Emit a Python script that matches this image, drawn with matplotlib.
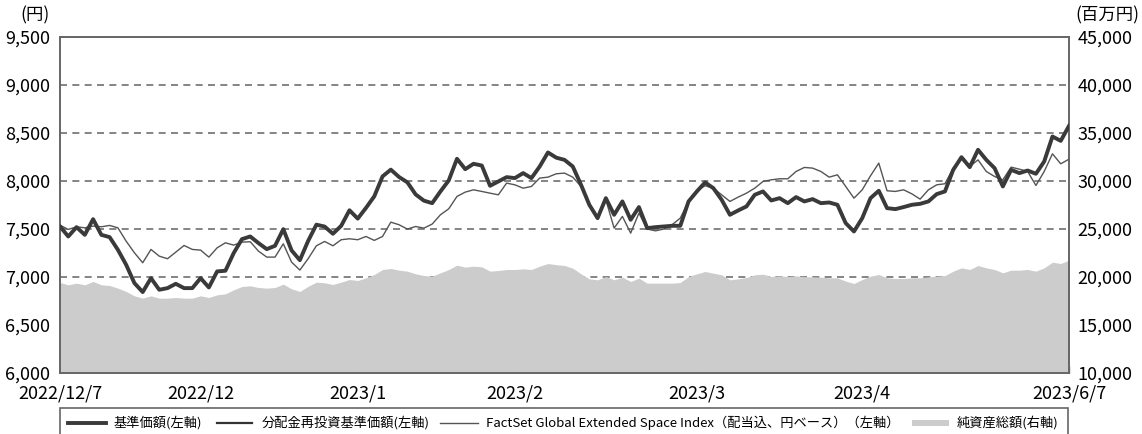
import numpy as np
import matplotlib
matplotlib.use("Agg")
import matplotlib.pyplot as plt
from matplotlib.patches import Rectangle
from matplotlib.lines import Line2D

plt.rcParams['font.family'] = ['Noto Sans CJK JP', 'DejaVu Sans']

# ---- data ----
nav = [7521, 7417, 7514, 7434, 7597, 7434, 7410, 7278, 7122, 6931,
       6838, 6983, 6862, 6879, 6924, 6879, 6879, 6983, 6886, 7053,
       7060, 7244, 7389, 7417, 7348, 7285, 7320, 7493, 7272, 7170,
       7370, 7540, 7520, 7445, 7528, 7690, 7603, 7715, 7835, 8043,
       8113, 8036, 7981, 7855, 7790, 7764, 7886, 8000, 8226, 8118,
       8174, 8156, 7945, 7990, 8035, 8025, 8077, 8025, 8146, 8292,
       8238, 8215, 8146, 7955, 7747, 7608, 7816, 7643, 7782, 7591,
       7723, 7504, 7514, 7521, 7528, 7528, 7782, 7886, 7980, 7920,
       7799, 7643, 7688, 7730, 7851, 7886, 7792, 7816, 7764, 7827,
       7782, 7806, 7764, 7771, 7747, 7556, 7469, 7608, 7816, 7893,
       7712, 7702, 7723, 7747, 7757, 7782, 7858, 7886, 8111, 8243,
       8139, 8320, 8215, 8129, 7938, 8111, 8077, 8104, 8070, 8198,
       8458, 8413, 8569]

nav_reinvested = list(nav)  # no distributions: identical to NAV

space_index = [7535, 7490, 7518, 7507, 7525, 7518, 7532, 7507, 7368, 7247,
               7143, 7282, 7212, 7185, 7254, 7323, 7282, 7275, 7202, 7299,
               7351, 7327, 7358, 7362, 7264, 7202, 7202, 7341, 7150, 7067,
               7185, 7320, 7365, 7320, 7383, 7393, 7383, 7417, 7376, 7417,
               7566, 7539, 7494, 7521, 7504, 7546, 7643, 7705, 7834, 7879,
               7903, 7886, 7868, 7851, 7973, 7955, 7920, 7938, 8025, 8035,
               8070, 8077, 8035, 7938, 7747, 7626, 7799, 7504, 7626, 7452,
               7660, 7494, 7476, 7494, 7539, 7608, 7782, 7896, 7945, 7920,
               7851, 7782, 7827, 7868, 7920, 7990, 8007, 8018, 8018, 8094,
               8136, 8129, 8094, 8035, 8059, 7938, 7816, 7903, 8049, 8181,
               7893, 7886, 7903, 7861, 7806, 7903, 7955, 7966, 8129, 8222,
               8146, 8215, 8094, 8042, 8007, 8139, 8118, 8094, 7948, 8094,
               8278, 8174, 8222]

net_assets = [19375, 19133, 19306, 19133, 19480, 19133, 19063, 18786, 18440, 17987,
              17745, 17987, 17745, 17745, 17814, 17745, 17745, 17987, 17814, 18092,
              18196, 18612, 18959, 19028, 18855, 18786, 18855, 19202, 18716, 18440,
              18975, 19410, 19341, 19167, 19410, 19688, 19584, 19861, 20208, 20729,
              20833, 20659, 20555, 20278, 20104, 20035, 20382, 20729, 21180, 20972,
              21076, 21006, 20555, 20625, 20729, 20729, 20798, 20729, 21076, 21353,
              21230, 21145, 20868, 20278, 19757, 19653, 20000, 19653, 19931, 19480,
              19827, 19306, 19306, 19306, 19306, 19375, 20000, 20278, 20521, 20347,
              20174, 19653, 19757, 19896, 20174, 20243, 20000, 20069, 20000, 20069,
              19983, 19965, 19931, 19861, 19861, 19514, 19271, 19688, 20035, 20208,
              19861, 19792, 19792, 19861, 19861, 19965, 20035, 20104, 20555, 20902,
              20729, 21145, 20902, 20729, 20382, 20659, 20659, 20729, 20555, 20902,
              21492, 21353, 21700]

tick_pos = [0, 17, 36, 55, 77, 97, 122]
tick_labels = ["2022/12/7", "2022/12", "2023/1", "2023/2", "2023/3", "2023/4", "2023/6/7"]
left_ticks = [6000, 6500, 7000, 7500, 8000, 8500, 9000, 9500]
right_ticks = [10000, 15000, 20000, 25000, 30000, 35000, 40000, 45000]

legend_labels = ["基準価額(左軸)", "分配金再投資基準価額(左軸)",
                 "FactSet Global Extended Space Index（配当込、円ベース）（左軸）",
                 "純資産総額(右軸)"]

# ---- figure ----
W, H = 1142, 434
fig = plt.figure(figsize=(W / 100, H / 100), dpi=100)
L, R, T, B = 60, 1069, 36.5, 372.5
ax2 = fig.add_axes([L / W, (H - B) / H, (R - L) / W, (B - T) / H])
ax = ax2.twinx()

x = np.arange(len(nav))
spine_c = "#666666"
area_c = "#cccccc"

# right axis: area + gridlines (below area)
ax2.fill_between(x, 10000, net_assets, color=area_c, linewidth=0, zorder=2)
ax2.set_ylim(10000, 45000)
ax2.set_yticks(right_ticks)
ax2.set_yticklabels([f"{v:,}" for v in right_ticks])
ax2.yaxis.tick_right()
ax2.yaxis.set_label_position("right")
ax2.grid(axis='y', color="#707070", linewidth=1.2, linestyle=(0, (4.2, 3.2)), zorder=1)
ax2.set_axisbelow(True)
ax2.set_xlim(0, len(nav) - 1)
ax2.set_xticks(tick_pos)
ax2.set_xticklabels(tick_labels)
ax2.tick_params(axis='x', direction='in', length=5, width=1.0, color=spine_c,
                labelsize=13, pad=9)
ax2.tick_params(axis='y', length=0, labelsize=13, pad=6, right=True, left=False,
                labelright=True, labelleft=False)

# left axis: lines
ax.yaxis.tick_left()
ax.plot(x, space_index, color="#555555", linewidth=1.0, zorder=3)
ax.plot(x, nav_reinvested, color="#333333", linewidth=1.6, zorder=4)
ax.plot(x, nav, color="#3a3a3a", linewidth=2.8, zorder=5)
ax.set_ylim(6000, 9500)
ax.set_yticks(left_ticks)
ax.set_yticklabels([f"{v:,}" for v in left_ticks])
ax.tick_params(axis='y', length=0, labelsize=13, pad=7, left=True, right=False,
               labelleft=True, labelright=False)
ax.set_xlim(0, len(nav) - 1)

for a in (ax, ax2):
    for s in a.spines.values():
        s.set_color(spine_c)
        s.set_linewidth(1.2)

fig.text(35 / W, 1 - 15 / H, "(円)", ha='center', va='center', fontsize=12.5)
fig.text(1107 / W, 1 - 15 / H, "(百万円)", ha='center', va='center', fontsize=12.5)

# ---- legend box ----
def fx(px):
    return px / W

def fy(py):
    return 1 - py / H

fig.patches.append(Rectangle((fx(60), fy(450)), fx(1068) - fx(60), fy(408) - fy(450),
                             transform=fig.transFigure, facecolor='white',
                             edgecolor=spine_c, linewidth=1.2, clip_on=False))
ly = fy(423)
fig.lines.append(Line2D([fx(68), fx(106)], [ly, ly], transform=fig.transFigure,
                        color="#3a3a3a", linewidth=2.8))
fig.lines.append(Line2D([fx(217), fx(252)], [ly, ly], transform=fig.transFigure,
                        color="#333333", linewidth=1.6))
fig.lines.append(Line2D([fx(440), fx(478)], [ly, ly], transform=fig.transFigure,
                        color="#555555", linewidth=1.0))
fig.patches.append(Rectangle((fx(912), fy(426)), fx(949) - fx(912), fy(420) - fy(426),
                             transform=fig.transFigure, facecolor=area_c,
                             edgecolor='none'))
for px, lab in zip([114, 262, 486, 957], legend_labels):
    fig.text(fx(px), ly, lab, ha='left', va='center', fontsize=9.5)

fig.savefig("out.png", dpi=100)
